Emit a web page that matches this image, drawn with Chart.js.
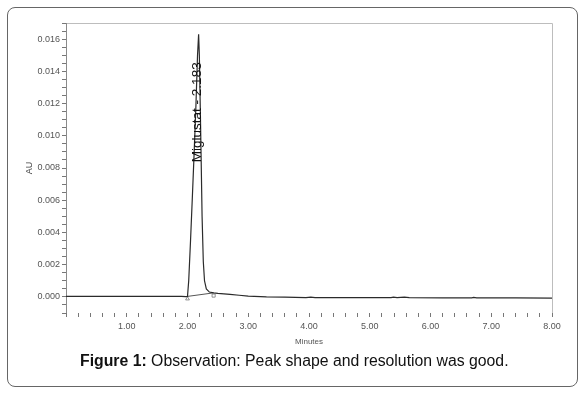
<!DOCTYPE html>
<html>
<head>
<meta charset="utf-8">
<script src="https://cdn.jsdelivr.net/npm/chart.js@4"></script>
<style>
  html, body { margin: 0; padding: 0; background: #fff; }
  body { width: 584px; height: 395px; position: relative; overflow: hidden; font-family: "Liberation Sans", Arial, sans-serif; }
  #frame { position: absolute; left: 7px; top: 7px; width: 569px; height: 378px; border: 1px solid #666; border-radius: 8px; }
  #wrap { position: absolute; left: 0; top: 0; width: 584px; height: 395px; }
  #caption { position: absolute; left: 80px; top: 352px; font-size: 15.8px; color: #111; white-space: nowrap; }
  #caption b { font-weight: bold; }
</style>
</head>
<body>
<div id="frame"></div>
<div id="wrap"><canvas id="chromChart" width="584" height="395"></canvas></div>
<div id="caption"><b>Figure 1:</b> Observation: Peak shape and resolution was good.</div>
<script>
// Chromatogram trace (minutes vs AU)
const times = [
  0, 0.5, 1.0, 1.5, 1.9, 1.97, 2.00, 2.02, 2.05, 2.08, 2.11, 2.14, 2.165, 2.183,
  2.195, 2.21, 2.225, 2.24, 2.26, 2.28, 2.31, 2.36, 2.43, 2.50, 2.60, 2.70, 2.85,
  3.00, 3.30, 3.60, 3.95, 4.03, 4.10, 4.60, 5.00, 5.35, 5.39, 5.45, 5.57, 5.65,
  6.20, 6.68, 6.71, 6.76, 7.40, 8.00
];
const au = [
  0.00003, 0.00003, 0.00003, 0.00003, 0.00003, 0.00002, 0.00003, 0.0010, 0.0035, 0.0062, 0.0090, 0.0120, 0.0150, 0.0163,
  0.0150, 0.0118, 0.0085, 0.0050, 0.0022, 0.0010, 0.0005, 0.0003, 0.00025, 0.00022, 0.00019, 0.00016, 0.00010,
  0.00005, 0.0000, -0.00002, -0.00004, -0.00001, -0.00004, -0.00005, -0.00005, -0.00005, -0.00002, -0.00005, -0.00001, -0.00005,
  -0.00006, -0.00006, -0.00003, -0.00006, -0.00006, -0.00008
];

// Integration baseline and its start/end markers
const baseTimes = [2.00, 2.43];
const baseAu = [0.00003, 0.00025];
const markerAu = [-0.00012, 0.00008];

// Peak annotation
const peakName = 'Miglustat';
const peakTime = 2.183;
const peakLabelAu = 0.01146;

// Axis settings
const xMin = 0, xMax = 8;
const yMin = -0.001, yMax = 0.017;

const tickFont = { family: '"Liberation Sans", Arial, sans-serif', size: 9 };

// Draw the plot frame and peak label
const framePlugin = {
  id: 'frame',
  beforeDatasetsDraw(chart) {
    const { ctx, chartArea: a } = chart;
    ctx.save();
    ctx.lineWidth = 1;
    ctx.strokeStyle = '#bdbdbd';
    ctx.beginPath();
    ctx.moveTo(a.left, a.top + 0.5);
    ctx.lineTo(a.right + 0.5, a.top + 0.5);
    ctx.lineTo(a.right + 0.5, a.bottom);
    ctx.stroke();
    ctx.strokeStyle = '#8a8a8a';
    ctx.beginPath();
    ctx.moveTo(a.left + 0.5, a.top);
    ctx.lineTo(a.left + 0.5, a.bottom);
    ctx.stroke();
    ctx.restore();
  },
  afterDatasetsDraw(chart) {
    const { ctx, scales } = chart;
    const x = scales.x.getPixelForValue(peakTime) - 1;
    const y = scales.y.getPixelForValue(peakLabelAu);
    ctx.save();
    ctx.translate(x, y);
    ctx.rotate(-Math.PI / 2);
    ctx.font = '13.5px "Liberation Sans", Arial, sans-serif';
    ctx.fillStyle = '#111';
    ctx.textAlign = 'center';
    ctx.textBaseline = 'middle';
    ctx.fillText(`${peakName} - ${peakTime.toFixed(3)}`, 0, 0);
    ctx.restore();
  }
};

const ctx = document.getElementById('chromChart').getContext('2d');

const chromChart = new Chart(ctx, {
  type: 'line',
  data: {
    datasets: [
      {
        label: 'Trace',
        data: times.map((t, i) => ({ x: t, y: au[i] })),
        borderColor: '#2b2b2b',
        borderWidth: 1.2,
        pointRadius: 0,
        tension: 0,
        fill: false
      },
      {
        label: 'Baseline',
        data: baseTimes.map((t, i) => ({ x: t, y: baseAu[i] })),
        borderColor: '#555',
        borderWidth: 1,
        pointRadius: 0,
        fill: false
      },
      {
        label: 'Markers',
        data: baseTimes.map((t, i) => ({ x: t, y: markerAu[i] })),
        showLine: false,
        pointStyle: ['triangle', 'rect'],
        pointRadius: 2.2,
        borderColor: '#777',
        borderWidth: 0.8,
        backgroundColor: '#fff'
      }
    ]
  },
  options: {
    responsive: false,
    animation: false,
    layout: { padding: { left: 0, top: 23, right: 32, bottom: 0 } },
    plugins: {
      legend: { display: false },
      tooltip: { enabled: false }
    },
    scales: {
      x: {
        type: 'linear',
        min: xMin,
        max: xMax,
        border: { display: false },
        grid: { drawOnChartArea: false, drawTicks: true, tickLength: 4, color: '#777' },
        ticks: {
          stepSize: 0.2,
          autoSkip: false,
          maxRotation: 0,
          padding: 4,
          color: '#555',
          font: tickFont,
          callback: v => {
            const r = Math.round(v * 10);
            return (r % 10 === 0 && r !== 0) ? (r / 10).toFixed(2) : '';
          }
        },
        title: {
          display: true,
          text: 'Minutes',
          color: '#555',
          font: { family: '"Liberation Sans", Arial, sans-serif', size: 8 },
          padding: { top: 0, bottom: 48 }
        },
        afterFit: s => { s.height = 82; }
      },
      y: {
        min: yMin,
        max: yMax,
        border: { display: false },
        grid: { drawOnChartArea: false, drawTicks: true, tickLength: 4, color: '#777' },
        ticks: {
          stepSize: 0.0005,
          autoSkip: false,
          padding: 2,
          color: '#555',
          font: tickFont,
          callback: v => {
            const r = Math.round(v * 10000);
            return (r % 20 === 0 && r >= 0 && r <= 160) ? (r / 10000).toFixed(3) : '';
          }
        },
        title: {
          display: true,
          text: 'AU',
          color: '#444',
          font: { family: '"Liberation Sans", Arial, sans-serif', size: 9 },
          padding: { top: 24, bottom: 0 }
        },
        afterFit: s => { s.width = 66; }
      }
    }
  },
  plugins: [framePlugin]
});
</script>
</body>
</html>
